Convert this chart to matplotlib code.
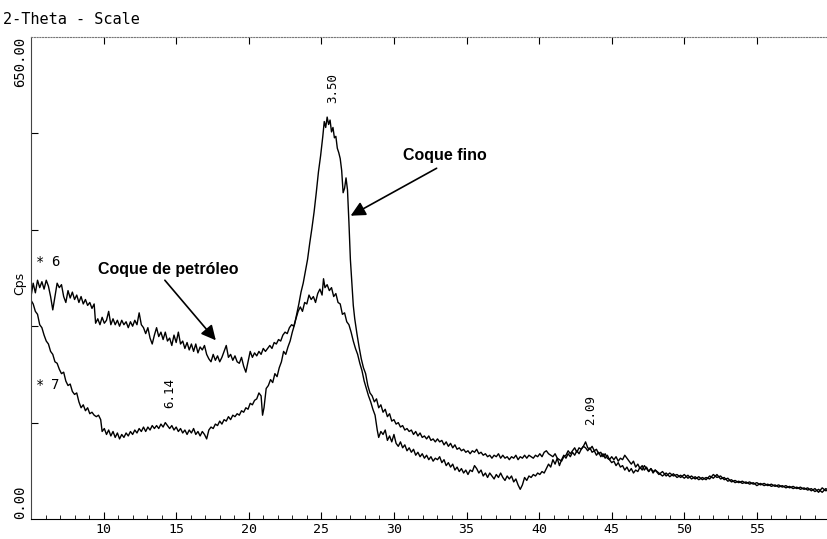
import numpy as np
import matplotlib.pyplot as plt

# (2-theta, cps) points
petroleo_scan = [
    (5.0, 300), (5.15, 318), (5.3, 305), (5.45, 322), (5.6, 312), (5.75, 320), (5.9, 310), (6.05, 322),
    (6.2, 314), (6.35, 300), (6.5, 282), (6.65, 300), (6.8, 318), (6.95, 312), (7.1, 316), (7.25, 300),
    (7.4, 292), (7.55, 308), (7.7, 298), (7.85, 306), (8.0, 296), (8.15, 302), (8.3, 292), (8.45, 300),
    (8.6, 290), (8.75, 296), (8.9, 288), (9.05, 292), (9.2, 284), (9.35, 290), (9.45, 264), (9.6, 270),
    (9.75, 262), (9.9, 272), (10.05, 264), (10.2, 268), (10.35, 280), (10.5, 262), (10.65, 270), (10.8, 262),
    (10.95, 268), (11.1, 260), (11.25, 268), (11.4, 262), (11.55, 266), (11.7, 258), (11.85, 266), (12.0, 260),
    (12.15, 268), (12.3, 262), (12.45, 278), (12.6, 262), (12.75, 258), (12.9, 250), (13.05, 258), (13.2, 244),
    (13.35, 236), (13.5, 248), (13.65, 258), (13.8, 246), (13.95, 252), (14.1, 242), (14.25, 252), (14.4, 240),
    (14.55, 244), (14.7, 234), (14.85, 248), (15.0, 238), (15.15, 252), (15.3, 236), (15.45, 240), (15.6, 230),
    (15.75, 238), (15.9, 228), (16.05, 236), (16.2, 226), (16.35, 236), (16.5, 224), (16.65, 232), (16.8, 228),
    (16.95, 234), (17.1, 222), (17.25, 216), (17.4, 212), (17.55, 222), (17.7, 214), (17.85, 220), (18.0, 212),
    (18.15, 218), (18.3, 226), (18.45, 234), (18.6, 218), (18.75, 222), (18.9, 214), (19.05, 220), (19.2, 212),
    (19.35, 210), (19.5, 218), (19.65, 206), (19.8, 198), (19.95, 212), (20.1, 226), (20.25, 218), (20.4, 224),
    (20.55, 220), (20.7, 226), (20.85, 222), (21.0, 230), (21.15, 226), (21.3, 230), (21.45, 234), (21.6, 230),
    (21.75, 238), (21.9, 236), (22.05, 242), (22.2, 240), (22.35, 248), (22.5, 252), (22.65, 250), (22.8, 258),
    (22.95, 262), (23.1, 260), (23.25, 270), (23.4, 280), (23.55, 286), (23.7, 280), (23.85, 292), (24.0, 290),
    (24.15, 302), (24.3, 296), (24.45, 300), (24.6, 292), (24.75, 304), (24.9, 310), (25.05, 302), (25.15, 324),
    (25.25, 312), (25.4, 316), (25.55, 308), (25.7, 312), (25.85, 300), (26.0, 304), (26.15, 292), (26.3, 290),
    (26.45, 276), (26.6, 278), (26.75, 266), (26.9, 262), (27.05, 252), (27.2, 240), (27.35, 230), (27.5, 222),
    (27.65, 210), (27.8, 200), (27.95, 186), (28.1, 176), (28.25, 166), (28.4, 158), (28.55, 148), (28.7, 140),
    (28.85, 120), (28.95, 110), (29.1, 118), (29.25, 114), (29.4, 120), (29.55, 106), (29.7, 112), (29.85, 104),
    (30.0, 114), (30.15, 102), (30.3, 98), (30.45, 104), (30.6, 96), (30.75, 100), (30.9, 92), (31.05, 96),
    (31.2, 90), (31.35, 94), (31.5, 86), (31.65, 90), (31.8, 84), (31.95, 88), (32.1, 82), (32.25, 86),
    (32.4, 80), (32.55, 84), (32.7, 78), (32.85, 82), (33.0, 80), (33.15, 84), (33.3, 76), (33.45, 80),
    (33.6, 72), (33.75, 76), (33.9, 70), (34.05, 74), (34.2, 66), (34.35, 70), (34.5, 64), (34.65, 68),
    (34.8, 62), (34.95, 66), (35.1, 60), (35.25, 66), (35.4, 64), (35.55, 72), (35.7, 68), (35.85, 62),
    (36.0, 66), (36.15, 58), (36.3, 62), (36.45, 56), (36.6, 62), (36.75, 58), (36.9, 54), (37.05, 60),
    (37.2, 56), (37.35, 62), (37.5, 56), (37.65, 52), (37.8, 58), (37.95, 54), (38.1, 58), (38.25, 50),
    (38.4, 54), (38.55, 46), (38.7, 40), (38.85, 46), (39.0, 56), (39.15, 52), (39.3, 58), (39.45, 56),
    (39.6, 60), (39.75, 58), (39.9, 62), (40.05, 60), (40.2, 64), (40.35, 62), (40.5, 68), (40.65, 74),
    (40.8, 70), (40.95, 80), (41.1, 74), (41.25, 82), (41.4, 72), (41.55, 80), (41.7, 86), (41.85, 82),
    (42.0, 88), (42.15, 84), (42.3, 90), (42.45, 86), (42.6, 92), (42.75, 88), (42.9, 94), (43.05, 98),
    (43.2, 104), (43.35, 96), (43.5, 94), (43.65, 98), (43.8, 92), (43.95, 94), (44.1, 88), (44.25, 90),
    (44.4, 84), (44.55, 88), (44.7, 82), (44.85, 80), (45.0, 76), (45.15, 78), (45.3, 72), (45.45, 76),
    (45.6, 70), (45.75, 72), (45.9, 66), (46.05, 70), (46.2, 64), (46.35, 68), (46.5, 62), (46.65, 66),
    (46.8, 64), (46.95, 70), (47.1, 66), (47.25, 72), (47.4, 68), (47.55, 64), (47.7, 68), (47.85, 62),
    (48.0, 66), (48.25, 60), (48.5, 64), (48.75, 58), (49.0, 62), (49.25, 58), (49.5, 60), (49.75, 56),
    (50.0, 60), (50.25, 55), (50.5, 58), (50.75, 54), (51.0, 57), (51.25, 53), (51.5, 56), (51.75, 54),
    (52.0, 60), (52.25, 56), (52.5, 58), (52.75, 53), (53.0, 55), (53.25, 50), (53.5, 52), (53.75, 49),
    (54.0, 51), (54.25, 48), (54.5, 50), (54.75, 47), (55.0, 49), (55.25, 46), (55.5, 48), (55.75, 45),
    (56.0, 47), (56.25, 44), (56.5, 46), (56.75, 43), (57.0, 45), (57.25, 42), (57.5, 44), (57.75, 41),
    (58.0, 43), (58.25, 40), (58.5, 42), (58.75, 38), (59.0, 41), (59.25, 36), (59.5, 42), (59.75, 38),
    (60.0, 40),
]

fino_scan = [
    (5.0, 295), (5.15, 290), (5.3, 280), (5.45, 276), (5.6, 262), (5.75, 258), (5.9, 248), (6.05, 240),
    (6.2, 236), (6.35, 226), (6.5, 222), (6.65, 212), (6.8, 210), (6.95, 202), (7.1, 196), (7.25, 198),
    (7.4, 186), (7.55, 180), (7.7, 182), (7.85, 172), (8.0, 168), (8.15, 170), (8.3, 158), (8.45, 150),
    (8.6, 154), (8.75, 146), (8.9, 150), (9.05, 142), (9.2, 144), (9.35, 140), (9.5, 138), (9.65, 140),
    (9.8, 134), (9.9, 118), (10.05, 122), (10.2, 114), (10.35, 120), (10.5, 112), (10.65, 118), (10.8, 110),
    (10.95, 116), (11.1, 108), (11.25, 114), (11.4, 110), (11.55, 116), (11.7, 112), (11.85, 118), (12.0, 114),
    (12.15, 120), (12.3, 116), (12.45, 122), (12.6, 118), (12.75, 124), (12.9, 118), (13.05, 124), (13.2, 120),
    (13.35, 126), (13.5, 122), (13.65, 126), (13.8, 122), (13.95, 128), (14.1, 124), (14.25, 130), (14.4, 126),
    (14.55, 122), (14.7, 126), (14.85, 120), (15.0, 124), (15.15, 118), (15.3, 122), (15.45, 116), (15.6, 120),
    (15.75, 114), (15.9, 120), (16.05, 116), (16.2, 122), (16.35, 114), (16.5, 118), (16.65, 112), (16.8, 118),
    (16.95, 114), (17.1, 108), (17.25, 120), (17.4, 124), (17.55, 122), (17.7, 128), (17.85, 126), (18.0, 132),
    (18.15, 128), (18.3, 134), (18.45, 132), (18.6, 138), (18.75, 134), (18.9, 140), (19.05, 138), (19.2, 142),
    (19.35, 140), (19.5, 146), (19.65, 144), (19.8, 150), (19.95, 148), (20.1, 156), (20.25, 154), (20.4, 160),
    (20.55, 162), (20.7, 170), (20.85, 166), (20.95, 140), (21.05, 150), (21.2, 176), (21.35, 180), (21.5, 188),
    (21.65, 184), (21.8, 196), (21.95, 192), (22.1, 204), (22.25, 212), (22.4, 226), (22.55, 222), (22.7, 232),
    (22.85, 240), (23.0, 252), (23.15, 262), (23.3, 276), (23.45, 290), (23.6, 306), (23.75, 318), (23.9, 334),
    (24.05, 350), (24.2, 372), (24.35, 392), (24.5, 414), (24.65, 440), (24.8, 468), (24.95, 490), (25.1, 516),
    (25.2, 536), (25.3, 528), (25.4, 542), (25.5, 532), (25.6, 538), (25.7, 522), (25.8, 528), (25.9, 514),
    (26.0, 516), (26.1, 500), (26.2, 494), (26.3, 486), (26.4, 470), (26.5, 440), (26.6, 446), (26.7, 460),
    (26.8, 444), (26.9, 400), (27.0, 350), (27.1, 320), (27.2, 288), (27.3, 270), (27.45, 250), (27.6, 232),
    (27.75, 216), (27.9, 204), (28.05, 196), (28.2, 180), (28.35, 170), (28.5, 166), (28.65, 158), (28.8, 162),
    (28.95, 150), (29.1, 154), (29.25, 144), (29.4, 148), (29.55, 138), (29.7, 142), (29.85, 132), (30.0, 134),
    (30.15, 128), (30.3, 130), (30.45, 124), (30.6, 126), (30.75, 120), (30.9, 122), (31.05, 118), (31.2, 120),
    (31.35, 114), (31.5, 118), (31.65, 112), (31.8, 116), (31.95, 110), (32.1, 112), (32.25, 108), (32.4, 112),
    (32.55, 106), (32.7, 108), (32.85, 104), (33.0, 108), (33.15, 104), (33.3, 106), (33.45, 100), (33.6, 104),
    (33.75, 98), (33.9, 102), (34.05, 96), (34.2, 100), (34.35, 94), (34.5, 96), (34.65, 92), (34.8, 94),
    (34.95, 90), (35.1, 92), (35.25, 88), (35.4, 92), (35.55, 90), (35.7, 94), (35.85, 88), (36.0, 90),
    (36.15, 86), (36.3, 88), (36.45, 84), (36.6, 86), (36.75, 82), (36.9, 86), (37.05, 84), (37.2, 88),
    (37.35, 82), (37.5, 86), (37.65, 82), (37.8, 84), (37.95, 80), (38.1, 84), (38.25, 82), (38.4, 86),
    (38.55, 80), (38.7, 84), (38.85, 82), (39.0, 86), (39.15, 82), (39.3, 86), (39.45, 84), (39.6, 82),
    (39.75, 86), (39.9, 84), (40.05, 88), (40.2, 84), (40.35, 90), (40.5, 92), (40.65, 88), (40.8, 86),
    (40.95, 84), (41.1, 88), (41.25, 82), (41.4, 80), (41.55, 78), (41.7, 84), (41.85, 86), (42.0, 92),
    (42.15, 88), (42.3, 92), (42.45, 96), (42.6, 90), (42.75, 96), (42.9, 94), (43.05, 98), (43.2, 96),
    (43.35, 92), (43.5, 96), (43.65, 90), (43.8, 92), (43.95, 86), (44.1, 90), (44.25, 84), (44.4, 88),
    (44.55, 82), (44.7, 86), (44.85, 80), (45.0, 84), (45.15, 80), (45.3, 84), (45.45, 78), (45.6, 82),
    (45.75, 80), (45.9, 86), (46.05, 82), (46.2, 78), (46.35, 74), (46.5, 78), (46.65, 70), (46.8, 74),
    (46.95, 68), (47.1, 72), (47.25, 66), (47.4, 70), (47.55, 64), (47.7, 68), (47.85, 64), (48.0, 66),
    (48.25, 62), (48.5, 58), (48.75, 62), (49.0, 57), (49.25, 61), (49.5, 56), (49.75, 59), (50.0, 55),
    (50.25, 59), (50.5, 54), (50.75, 57), (51.0, 53), (51.25, 56), (51.5, 53), (51.75, 58), (52.0, 55),
    (52.25, 60), (52.5, 54), (52.75, 56), (53.0, 51), (53.25, 53), (53.5, 49), (53.75, 51), (54.0, 48),
    (54.25, 50), (54.5, 47), (54.75, 49), (55.0, 45), (55.25, 48), (55.5, 45), (55.75, 47), (56.0, 44),
    (56.25, 46), (56.5, 43), (56.75, 45), (57.0, 42), (57.25, 44), (57.5, 41), (57.75, 43), (58.0, 40),
    (58.25, 42), (58.5, 39), (58.75, 41), (59.0, 37), (59.25, 40), (59.5, 36), (59.75, 41), (60.0, 38),
]

x_major = [10, 15, 20, 25, 30, 35, 40, 45, 50, 55]
x_minor = [6, 7, 8, 9, 11, 12, 13, 14, 16, 17, 18, 19, 21, 22, 23, 24, 26, 27, 28, 29, 31, 32, 33, 34,
           36, 37, 38, 39, 41, 42, 43, 44, 46, 47, 48, 49, 51, 52, 53, 54, 56, 57, 58, 59]
y_ticks = [130, 260, 390, 520]
peak_labels = ["6.14", "3.50", "2.09"]
peak_pos = [(14.57, 170), (25.78, 581), (43.54, 147)]

mono = "DejaVu Sans Mono"

fig = plt.figure(figsize=(8.28, 5.39), dpi=100)
ax = fig.add_axes([31 / 828, 20 / 539, 797 / 828, 482 / 539])

px, py = np.array(petroleo_scan).T
fx, fy = np.array(fino_scan).T
ax.plot(px, py, color="black", lw=1.0)
ax.plot(fx, fy, color="black", lw=1.0)

ax.set_xlim(5, 59.9)
ax.set_ylim(0, 650)

ax.spines["right"].set_visible(False)
ax.spines["top"].set_linestyle((0, (1, 1.5)))
ax.spines["top"].set_color("#777777")
ax.spines["top"].set_linewidth(0.8)
ax.spines["left"].set_color("#444444")
ax.spines["bottom"].set_color("black")

ax.set_xticks(x_major)
ax.set_xticks(x_minor, minor=True)
ax.tick_params(axis="x", which="major", direction="in", length=5, top=True,
               labelsize=9.5, pad=3)
ax.tick_params(axis="x", which="minor", direction="in", length=3, top=False)
for lab in ax.get_xticklabels():
    lab.set_family(mono)
ax.set_yticks(y_ticks)
ax.tick_params(axis="y", direction="in", length=5, labelleft=False)

# figure texts
fig.text(3 / 828, 1 - 20 / 539, "2-Theta - Scale", family=mono, fontsize=11, va="center", ha="left")
fig.text(20 / 828, 1 - 37 / 539, "650.00", family=mono, fontsize=10, rotation=90, va="top", ha="center")
fig.text(20 / 828, 1 - 519 / 539, "0.00", family=mono, fontsize=10, rotation=90, va="bottom", ha="center")
fig.text(20 / 828, 1 - 283 / 539, "Cps", fontsize=9, rotation=90, va="center", ha="center")

ax.text(5.35, 347, "*", family=mono, fontsize=10, va="center", ha="left")
ax.text(6.4, 347, "6", family=mono, fontsize=10, va="center", ha="left")
ax.text(5.35, 181, "*", family=mono, fontsize=10, va="center", ha="left")
ax.text(6.4, 181, "7", family=mono, fontsize=10, va="center", ha="left")

for lab, (x, y) in zip(peak_labels, peak_pos):
    ax.text(x, y, lab, family=mono, fontsize=9, rotation=90, va="center", ha="center")

arrow = dict(arrowstyle="-|>", color="black", lw=1.2, mutation_scale=22, shrinkA=0, shrinkB=0)
ax.text(14.43, 336, "Coque de petróleo", fontsize=11.5, fontweight="bold",
        family="Liberation Sans", ha="center", va="center")
ax.annotate("", xy=(17.73, 241), xytext=(14.22, 322), arrowprops=arrow)
ax.text(33.49, 490, "Coque fino", fontsize=11.5, fontweight="bold",
        family="Liberation Sans", ha="center", va="center")
ax.annotate("", xy=(27.02, 409), xytext=(32.94, 473), arrowprops=arrow)

fig.savefig("out.png", dpi=100)
